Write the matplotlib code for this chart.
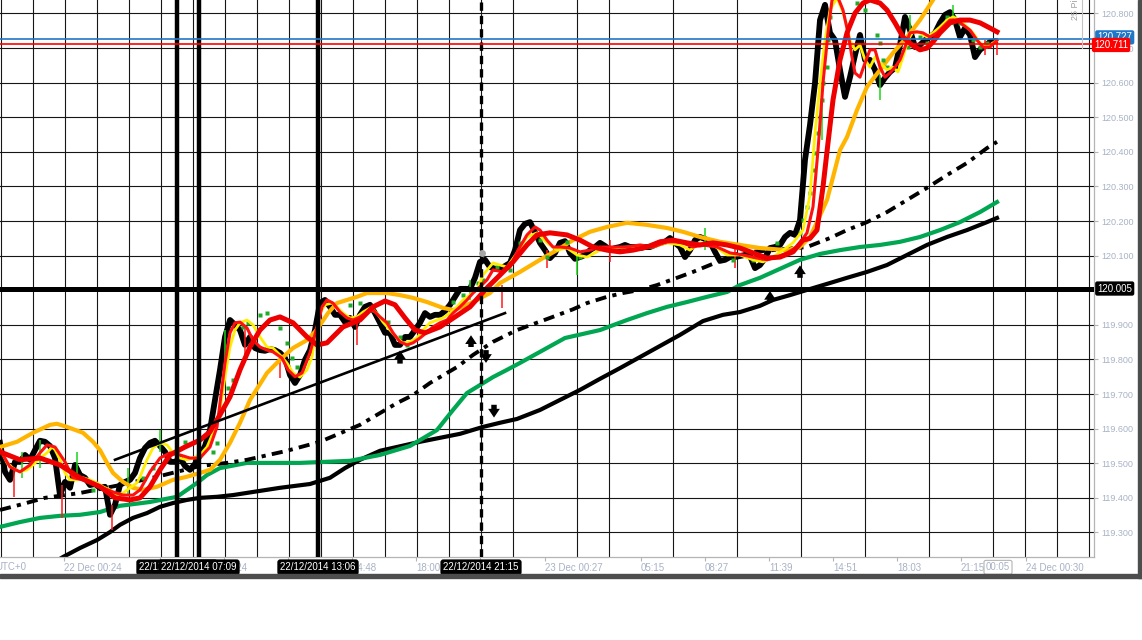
import numpy as np
import matplotlib
matplotlib.use("Agg")
import matplotlib.pyplot as plt
import matplotlib.transforms as mtransforms
from matplotlib.patches import Rectangle
from matplotlib.ticker import FixedLocator

plt.rcParams["font.family"] = ["Liberation Sans", "DejaVu Sans"]
plt.rcParams["lines.scale_dashes"] = False

# ---------------- data: time = minutes from 22 Dec 2014 00:00 (UTC+0) ----------------
PRICE_START = -168
PRICE_STEP = 15
PRICE = [
    119.559, 119.475, 119.452, 119.504, 119.504, 119.524, 119.510, 119.538, 119.565, 119.562,
    119.550, 119.515, 119.408, 119.446, 119.429, 119.495, 119.466, 119.458, 119.437, 119.440,
    119.429, 119.432, 119.351, 119.380, 119.437, 119.446, 119.452, 119.472, 119.515, 119.544,
    119.559, 119.565, 119.550, 119.533, 119.504, 119.504, 119.515, 119.492, 119.481, 119.498,
    119.524, 119.550, 119.596, 119.683, 119.770, 119.865, 119.914, 119.900, 119.885, 119.842,
    119.865, 119.833, 119.827, 119.825, 119.830, 119.827, 119.819, 119.804, 119.755, 119.732,
    119.755, 119.799, 119.827, 119.885, 119.963, 119.972, 119.952, 119.929, 119.929, 119.908,
    119.920, 119.894, 119.929, 119.952, 119.958, 119.934, 119.906, 119.877, 119.877, 119.842,
    119.842, 119.865, 119.865, 119.885, 119.906, 119.934, 119.923, 119.929, 119.929, 119.940,
    119.958, 119.981, 120.004, 120.004, 120.004, 120.036, 120.082, 120.088, 120.067, 120.062,
    120.062, 120.070, 120.079, 120.116, 120.174, 120.192, 120.197, 120.168, 120.137, 120.116,
    120.093, 120.108, 120.137, 120.142, 120.108, 120.091, 120.096, 120.102, 120.116, 120.125,
    120.137, 120.128, 120.116, 120.122, 120.125, 120.131, 120.125, 120.125, 120.122, 120.125,
    120.125, 120.131, 120.137, 120.140, 120.151, 120.137, 120.125, 120.096, 120.116, 120.145,
    120.154, 120.148, 120.140, 120.111, 120.085, 120.088, 120.096, 120.096, 120.099, 120.102,
    120.099, 120.064, 120.073, 120.093, 120.122, 120.125, 120.131, 120.154, 120.166, 120.160,
    120.203, 120.377, 120.478, 120.599, 120.781, 120.825, 120.744, 120.723, 120.637, 120.559,
    120.616, 120.680, 120.738, 120.666, 120.666, 120.637, 120.593, 120.614, 120.631, 120.643,
    120.709, 120.790, 120.752, 120.703, 120.709, 120.723, 120.732, 120.744, 120.773, 120.796,
    120.804, 120.781, 120.732, 120.758, 120.738, 120.674, 120.695, 120.706, 120.718, 120.720,
]

# single-bar wicks poking out of the price cluster
WICK_T = [-126, -102, -48, 18, 63, 168, 216, 312, 507, 567, 672, 903, 1242, 1338,
          1473, 1563, 1662, 1947, 2037, 2298, 2472, 2562, 2691, 2787, 2823]
WICK_LO = [119.403, 119.458, 119.486, 119.342, 119.458, 119.307, 119.408, 119.533, 119.799,
           119.813, 119.747, 119.842, 119.972, 119.949, 120.064, 120.044, 120.082, 120.116,
           120.064, 120.434, 120.550, 120.709, 120.767, 120.680, 120.680]
WICK_HI = [119.481, 119.533, 119.567, 119.437, 119.533, 119.380, 119.486, 119.596, 119.885,
           119.900, 119.813, 119.920, 120.030, 120.015, 120.116, 120.102, 120.145, 120.180,
           120.131, 120.579, 120.622, 120.796, 120.825, 120.723, 120.729]
WICK_C = ["r", "g", "g", "r", "g", "r", "g", "g", "g", "r", "r", "r", "g", "r",
          "r", "g", "r", "g", "r", "g", "g", "g", "g", "r", "r"]

YELLOW_T = [-168, -147, -129, -108, -87, -69, -48, -27, -12, -3,
            12, 27, 42, 63, 81, 102, 123, 141, 162, 183,
            201, 222, 243, 252, 273, 291, 312, 333, 351, 372,
            393, 411, 432, 453, 471, 492, 507, 522, 537, 552,
            573, 591, 612, 633, 651, 672, 693, 711, 732, 753,
            768, 777, 792, 807, 828, 846, 861, 882, 903, 921,
            942, 963, 981, 1002, 1023, 1041, 1062, 1083, 1101, 1122,
            1143, 1161, 1182, 1203, 1221, 1242, 1263, 1281, 1311, 1353,
            1383, 1413, 1443, 1473, 1503, 1533, 1563, 1593, 1632, 1671,
            1713, 1752, 1791, 1833, 1872, 1902, 1932, 1971, 2013, 2052,
            2091, 2121, 2151, 2181, 2211, 2241, 2262, 2277, 2292, 2307,
            2322, 2343, 2361, 2373, 2382, 2397, 2412, 2427, 2442, 2457,
            2472, 2493, 2511, 2526, 2541, 2556, 2571, 2592, 2613, 2631,
            2652, 2673, 2691, 2712, 2733, 2751, 2772, 2793, 2811, 2823]
YELLOW_V = [119.544, 119.501, 119.486, 119.475, 119.481, 119.495, 119.515, 119.530, 119.547, 119.539,
            119.510, 119.472, 119.452, 119.452, 119.458, 119.452, 119.443, 119.432, 119.423, 119.408,
            119.414, 119.429, 119.443, 119.461, 119.510, 119.544, 119.559, 119.553, 119.530, 119.515,
            119.510, 119.515, 119.524, 119.547, 119.588, 119.654, 119.749, 119.836, 119.885, 119.906,
            119.914, 119.900, 119.865, 119.836, 119.833, 119.813, 119.790, 119.761, 119.749, 119.770,
            119.807, 119.865, 119.934, 119.958, 119.963, 119.949, 119.934, 119.920, 119.923, 119.937,
            119.949, 119.934, 119.908, 119.885, 119.862, 119.848, 119.851, 119.862, 119.885, 119.906,
            119.914, 119.920, 119.934, 119.952, 119.972, 119.986, 120.001, 120.044, 120.079, 120.067,
            120.108, 120.154, 120.166, 120.137, 120.116, 120.122, 120.102, 120.096, 120.116, 120.122,
            120.125, 120.125, 120.125, 120.137, 120.131, 120.116, 120.137, 120.131, 120.102, 120.102,
            120.088, 120.082, 120.096, 120.116, 120.137, 120.174, 120.275, 120.455, 120.599, 120.723,
            120.810, 120.845, 120.804, 120.761, 120.723, 120.695, 120.709, 120.666, 120.645, 120.674,
            120.657, 120.637, 120.645, 120.631, 120.674, 120.723, 120.747, 120.744, 120.732, 120.744,
            120.761, 120.781, 120.790, 120.781, 120.761, 120.744, 120.715, 120.703, 120.715, 120.723]

FAST_RED_T = [-168, -138, -108, -78, -48, -27, -3, 27, 51, 81,
              111, 141, 171, 201, 231, 252, 282, 312, 342, 372,
              402, 432, 462, 483, 492, 507, 522, 537, 552, 573,
              591, 612, 633, 651, 678, 696, 717, 738, 762, 783,
              798, 813, 831, 852, 873, 891, 912, 933, 951, 972,
              993, 1011, 1032, 1053, 1071, 1092, 1113, 1131, 1152, 1173,
              1191, 1212, 1233, 1251, 1272, 1293, 1311, 1341, 1362, 1386,
              1413, 1437, 1452, 1473, 1491, 1512, 1542, 1572, 1602, 1632,
              1671, 1713, 1752, 1791, 1833, 1872, 1911, 1941, 1983, 2022,
              2061, 2103, 2133, 2163, 2193, 2223, 2253, 2271, 2286, 2301,
              2316, 2328, 2343, 2361, 2376, 2388, 2397, 2412, 2427, 2442,
              2457, 2472, 2487, 2502, 2517, 2532, 2547, 2562, 2583, 2601,
              2622, 2643, 2661, 2682, 2703, 2721, 2742, 2763, 2781, 2802,
              2823]
FAST_RED_V = [119.539, 119.489, 119.475, 119.495, 119.530, 119.553, 119.547, 119.504, 119.458, 119.452,
              119.443, 119.429, 119.417, 119.408, 119.408, 119.423, 119.475, 119.515, 119.530, 119.524,
              119.515, 119.515, 119.547, 119.605, 119.674, 119.790, 119.877, 119.906, 119.908, 119.891,
              119.856, 119.836, 119.827, 119.822, 119.804, 119.770, 119.750, 119.761, 119.819, 119.894,
              119.952, 119.972, 119.963, 119.937, 119.920, 119.914, 119.923, 119.937, 119.943, 119.923,
              119.906, 119.877, 119.851, 119.842, 119.848, 119.862, 119.879, 119.894, 119.906, 119.914,
              119.934, 119.952, 119.972, 119.992, 120.010, 120.030, 120.059, 120.053, 120.067, 120.116,
              120.160, 120.183, 120.174, 120.145, 120.125, 120.125, 120.122, 120.111, 120.116, 120.125,
              120.125, 120.125, 120.131, 120.125, 120.140, 120.140, 120.125, 120.131, 120.125, 120.108,
              120.102, 120.093, 120.088, 120.096, 120.108, 120.125, 120.166, 120.241, 120.405, 120.599,
              120.744, 120.839, 120.853, 120.810, 120.744, 120.674, 120.628, 120.616, 120.657, 120.695,
              120.695, 120.645, 120.616, 120.628, 120.645, 120.666, 120.703, 120.744, 120.747, 120.744,
              120.732, 120.744, 120.761, 120.781, 120.781, 120.767, 120.752, 120.723, 120.703, 120.703,
              120.723]

SLOW_RED_T = [-168, -108, -48, 12, 72, 132, 177, 222, 252, 282,
              312, 342, 387, 432, 462, 492, 522, 552, 582, 612,
              642, 672, 711, 753, 783, 813, 861, 912, 951, 987,
              1017, 1047, 1077, 1107, 1152, 1197, 1242, 1293, 1332, 1371,
              1413, 1443, 1482, 1533, 1572, 1611, 1653, 1692, 1731, 1773,
              1812, 1851, 1893, 1932, 1971, 2013, 2052, 2091, 2133, 2172,
              2211, 2241, 2262, 2283, 2301, 2316, 2331, 2352, 2373, 2397,
              2421, 2442, 2472, 2493, 2517, 2541, 2568, 2592, 2613, 2631,
              2652, 2682, 2712, 2742, 2772, 2802, 2823]
SLOW_RED_V = [119.533, 119.510, 119.515, 119.495, 119.458, 119.432, 119.400, 119.394, 119.400, 119.432,
              119.481, 119.524, 119.547, 119.567, 119.591, 119.640, 119.692, 119.770, 119.836, 119.885,
              119.914, 119.923, 119.906, 119.865, 119.842, 119.848, 119.894, 119.914, 119.952, 119.969,
              119.958, 119.920, 119.885, 119.877, 119.894, 119.923, 119.952, 120.007, 120.044, 120.082,
              120.131, 120.160, 120.166, 120.160, 120.145, 120.125, 120.116, 120.111, 120.116, 120.125,
              120.140, 120.145, 120.137, 120.131, 120.137, 120.131, 120.122, 120.108, 120.093, 120.096,
              120.111, 120.145, 120.150, 120.174, 120.299, 120.426, 120.550, 120.666, 120.744, 120.801,
              120.830, 120.839, 120.830, 120.810, 120.773, 120.732, 120.709, 120.695, 120.700, 120.718,
              120.744, 120.773, 120.781, 120.781, 120.773, 120.758, 120.747]

ORANGE_T = [-168, -117, -69, -18, 3, 33, 81, 111, 132, 153,
            171, 201, 231, 261, 303, 351, 393, 432, 462, 492,
            522, 552, 582, 633, 672, 711, 753, 777, 798, 816,
            843, 873, 903, 933, 993, 1032, 1071, 1113, 1161, 1191,
            1221, 1263, 1302, 1332, 1392, 1452, 1503, 1551, 1602, 1653,
            1713, 1773, 1833, 1881, 1932, 1992, 2052, 2112, 2193, 2232,
            2262, 2286, 2313, 2331, 2352, 2373, 2403, 2433, 2472, 2511,
            2553, 2592, 2631, 2682, 2823]
ORANGE_V = [119.547, 119.562, 119.588, 119.611, 119.614, 119.605, 119.588, 119.562, 119.538, 119.501,
            119.472, 119.446, 119.429, 119.423, 119.432, 119.452, 119.461, 119.472, 119.481, 119.510,
            119.559, 119.617, 119.683, 119.761, 119.799, 119.833, 119.856, 119.880, 119.908, 119.934,
            119.963, 119.972, 119.981, 119.992, 119.992, 119.986, 119.978, 119.966, 119.949, 119.943,
            119.952, 119.972, 119.992, 120.021, 120.053, 120.088, 120.116, 120.145, 120.169, 120.183,
            120.195, 120.189, 120.180, 120.169, 120.154, 120.140, 120.131, 120.122, 120.116, 120.125,
            120.154, 120.203, 120.261, 120.327, 120.405, 120.443, 120.521, 120.588, 120.637, 120.686,
            120.732, 120.781, 120.839, 120.911, 121.099]

DASHDOT_T = [-168, -108, -33, 72, 192, 312, 432, 513, 573, 693,
             792, 912, 972, 1023, 1071, 1122, 1203, 1251, 1311, 1383,
             1482, 1551, 1593, 1653, 1701, 1752, 1803, 1863, 1911, 1962,
             2052, 2151, 2253, 2322, 2373, 2433, 2493, 2553, 2613, 2673,
             2733, 2793, 2823]
DASHDOT_V = [119.365, 119.380, 119.400, 119.414, 119.437, 119.463, 119.492, 119.501, 119.510, 119.536,
             119.562, 119.611, 119.645, 119.674, 119.697, 119.732, 119.778, 119.813, 119.851, 119.885,
             119.920, 119.945, 119.963, 119.981, 119.992, 120.001, 120.015, 120.036, 120.053, 120.073,
             120.108, 120.116, 120.125, 120.151, 120.174, 120.197, 120.226, 120.261, 120.296, 120.333,
             120.368, 120.411, 120.429]

GREEN_T = [-168, -108, -48, 12, 72, 132, 192, 282, 363, 393,
           423, 453, 492, 573, 732, 882, 972, 1062, 1143, 1191,
           1233, 1272, 1311, 1353, 1392, 1452, 1527, 1632, 1713, 1773,
           1833, 1893, 1953, 2013, 2052, 2112, 2172, 2232, 2292, 2352,
           2412, 2472, 2532, 2592, 2652, 2712, 2772, 2823]
GREEN_V = [119.316, 119.330, 119.342, 119.348, 119.351, 119.359, 119.377, 119.388, 119.403, 119.423,
           119.443, 119.466, 119.486, 119.501, 119.501, 119.507, 119.524, 119.550, 119.596, 119.654,
           119.703, 119.726, 119.749, 119.770, 119.790, 119.822, 119.862, 119.885, 119.914, 119.934,
           119.952, 119.966, 119.981, 119.995, 120.015, 120.036, 120.062, 120.088, 120.105, 120.116,
           120.125, 120.131, 120.140, 120.154, 120.174, 120.197, 120.226, 120.255]

BLACK_T = [-3, 21, 72, 123, 162, 192, 231, 273, 312, 351,
           393, 432, 483, 531, 591, 672, 762, 822, 867, 912,
           972, 1092, 1212, 1281, 1332, 1383, 1452, 1512, 1572, 1632,
           1692, 1752, 1812, 1872, 1941, 2001, 2052, 2112, 2151, 2202,
           2253, 2322, 2373, 2433, 2493, 2553, 2613, 2673, 2733, 2793,
           2823]
BLACK_V = [119.215, 119.229, 119.255, 119.278, 119.301, 119.322, 119.342, 119.356, 119.374, 119.385,
           119.394, 119.400, 119.403, 119.408, 119.417, 119.429, 119.440, 119.458, 119.486, 119.510,
           119.536, 119.562, 119.585, 119.605, 119.617, 119.628, 119.654, 119.683, 119.712, 119.744,
           119.775, 119.807, 119.839, 119.871, 119.911, 119.929, 119.937, 119.955, 119.972, 119.986,
           120.001, 120.021, 120.036, 120.053, 120.073, 120.102, 120.131, 120.154, 120.174, 120.197,
           120.209]

SAR_T = [111, 261, 291, 387, 471, 483, 516, 531, 561, 576,
         612, 633, 672, 693, 708, 723, 882, 912, 951, 996,
         1032, 1053, 1131, 1191, 1221, 1251, 1266, 1281, 1323, 1362,
         1392, 1452, 1473, 1533, 1572, 2031, 2091, 2163, 2211, 2232,
         2241, 2253, 2262, 2271, 2277, 2286, 2292, 2298, 2301, 2313,
         2316, 2322, 2403, 2427, 2463, 2472, 2481, 2493, 2556, 2592,
         2613, 2643, 2673, 2691, 2712, 2751, 2772, 2793]
SAR_V = [119.423, 119.458, 119.486, 119.562, 119.533, 119.559, 119.718, 119.741, 119.894, 119.906,
         119.929, 119.934, 119.891, 119.848, 119.804, 119.778, 119.958, 119.963, 119.943, 119.908,
         119.865, 119.842, 119.891, 119.966, 119.986, 120.001, 120.021, 120.030, 120.067, 120.059,
         120.137, 120.145, 120.096, 120.140, 120.096, 120.088, 120.088, 120.137, 120.116, 120.166,
         120.203, 120.241, 120.281, 120.348, 120.397, 120.455, 120.501, 120.550, 120.599, 120.645,
         120.723, 120.790, 120.830, 120.810, 120.738, 120.715, 120.666, 120.645, 120.703, 120.732,
         120.715, 120.744, 120.790, 120.790, 120.773, 120.723, 120.703, 120.715]

TREND_T = [177, 1347]
TREND_V = [119.510, 119.934]

ARROW_T = [1032, 1245, 1290, 1314, 2142, 2232]
ARROW_FROM = [119.788, 119.836, 119.827, 119.669, 119.966, 120.036]
ARROW_TO = [119.826, 119.870, 119.790, 119.632, 119.998, 120.072]

MARK_T, MARK_V = 1278, 120.108

VLINE_T = [363, 429, 786]
VLINE_LABELS = ["22/12/2014 06:03", "22/12/2014 07:09", "22/12/2014 13:06"]
VDASH_T = 1275
VDASH_LABEL = "22/12/2014 21:15"

LEVEL = 120.005
ASK = 120.727
BID = 120.711
NOW_LABEL = "00:05"
NOW_T = 2826

Y_TICKS = [119.3, 119.4, 119.5, 119.6, 119.7, 119.8, 119.9, 120.0,
           120.1, 120.2, 120.3, 120.4, 120.5, 120.6, 120.7, 120.8]
X_TICK_T = [24, 312, 504, 696, 888, 1080, 1272, 1467, 1755, 1947, 2139, 2331, 2523, 2715, 2910]
X_TICK_LABELS = ["22 Dec 00:24", "05:12", "08:24", "11:36", "14:48", "18:00", "21:12",
                 "23 Dec 00:27", "05:15", "08:27", "11:39", "14:51", "18:03", "21:15",
                 "24 Dec 00:30"]

# ---------------- figure ----------------
W, H = 1142, 640
fig = plt.figure(figsize=(W / 100, H / 100), dpi=100)
fig.patch.set_facecolor("white")
ax = fig.add_axes([0, (H - 557) / H, 1094 / W, 557 / H])
ax.set_xlim(-168, 3114)
ax.set_ylim(119.229, 120.839)
ax.set_facecolor("white")
for s in ["top", "left"]:
    ax.spines[s].set_visible(False)
for s in ["right", "bottom"]:
    ax.spines[s].set_color("#b4b4b4")
    ax.spines[s].set_linewidth(0.9)

LABEL_C = "#a8b2c6"
GRID_C = "#161616"

ax.yaxis.tick_right()
ax.set_yticks(Y_TICKS)
ax.set_yticklabels([f"{v:.3f}" for v in Y_TICKS])
ax.tick_params(axis="y", which="major", length=3, width=0.8, color="#b4b4b4",
               labelcolor=LABEL_C, labelsize=6.5, pad=2)
ax.grid(axis="y", which="major", color=GRID_C, lw=0.8)
ax.set_axisbelow(True)

ax.xaxis.set_minor_locator(FixedLocator(np.arange(-165, 3114, 96)))
ax.grid(axis="x", which="minor", color=GRID_C, lw=0.8)
ax.set_xticks(X_TICK_T)
ax.set_xticklabels(X_TICK_LABELS)
ax.tick_params(axis="x", which="major", length=3, width=0.8, color="#b4b4b4",
               labelcolor=LABEL_C, labelsize=7, pad=1.5)
ax.tick_params(axis="x", which="minor", length=0)
for lab in ax.get_xticklabels():
    lab.set_horizontalalignment("left")

# ---------------- series ----------------
price_t = PRICE_START + PRICE_STEP * np.arange(len(PRICE))

ax.plot(BLACK_T, BLACK_V, color="black", lw=3.0, zorder=2)
ax.plot(GREEN_T, GREEN_V, color="#00a651", lw=3.0, zorder=2.1)
ax.plot(DASHDOT_T, DASHDOT_V, color="black", lw=2.8, zorder=2.2, dashes=(8, 4.5, 3, 4.5))
ax.plot(price_t, PRICE, color="black", lw=4.2, zorder=3, solid_joinstyle="round")
wick_colors = ["#ff1a1a" if c == "r" else "#19d419" for c in WICK_C]
ax.vlines(WICK_T, WICK_LO, WICK_HI, colors=wick_colors, lw=1.1, zorder=3.2)
ax.plot(ORANGE_T, ORANGE_V, color="#ffb400", lw=3.0, zorder=3.4)
ax.plot(SAR_T, SAR_V, ls="none", marker="s", ms=2.8, color="#1faa2a", mec="none", zorder=3.6)
ax.plot(YELLOW_T, YELLOW_V, color="#ffee00", lw=2.0, zorder=4)
ax.plot(FAST_RED_T, FAST_RED_V, color="#ff1010", lw=2.2, zorder=4.2)
ax.plot(SLOW_RED_T, SLOW_RED_V, color="#ee0000", lw=3.6, zorder=4.3)

ax.plot(TREND_T, TREND_V, color="black", lw=1.9, zorder=5)
for t, a, b in zip(ARROW_T, ARROW_FROM, ARROW_TO):
    ax.annotate("", xy=(t, b), xytext=(t, a),
                arrowprops=dict(arrowstyle="simple,head_length=0.45,head_width=0.6,tail_width=0.28",
                                fc="black", ec="black", lw=0, shrinkA=0, shrinkB=0,
                                mutation_scale=14),
                zorder=5)

for t in VLINE_T:
    ax.axvline(t, color="black", lw=3.2, zorder=6)
ax.axvline(VDASH_T, color="black", lw=2.4, dashes=(6, 3.6), zorder=6)
ax.axhline(LEVEL, color="black", lw=3.6, zorder=6)
ax.axhline(ASK, color="#1f77c8", lw=1.2, zorder=7)
ax.axhline(BID, color="#ff0000", lw=1.2, zorder=7)
ax.plot([MARK_T], [MARK_V], "o", color="#a6a6a6", ms=5, mec="none", zorder=7)

# scale marker top-right
ax.plot([1082 / 1094] * 2, [1, 1 - 48 / 557], transform=ax.transAxes, color="#c4c4c4", lw=0.8, zorder=7)
ax.text(1076 / 1094, 1 - 20 / 557, "25 Pips", rotation=90, transform=ax.transAxes,
        ha="center", va="bottom", fontsize=6.5, color="#a0a0a0", zorder=8, clip_on=False)

# ---------------- labels / boxes ----------------
ty = mtransforms.blended_transform_factory(ax.transAxes, ax.transData)
box_kw = dict(transform=ty, ha="left", va="center", fontsize=7, color="white", zorder=20, clip_on=False)
ax.text(1.003, ASK + 0.004, f"{ASK:.3f}", bbox=dict(boxstyle="round,pad=0.22", fc="#1f77c8", ec="none"), **box_kw)
ax.text(1.0, BID - 0.002, f"{BID:.3f}", bbox=dict(boxstyle="round,pad=0.22", fc="#ff0000", ec="none"), **box_kw)
ax.text(1.003, LEVEL, f"{LEVEL:.3f}", bbox=dict(boxstyle="round,pad=0.22", fc="black", ec="none"), **box_kw)

tx = mtransforms.blended_transform_factory(ax.transData, ax.transAxes)
for t, lab in zip(VLINE_T + [VDASH_T], VLINE_LABELS + [VDASH_LABEL]):
    ax.text(t, -0.0185, lab, transform=tx, ha="center", va="center", fontsize=7, color="white",
            bbox=dict(boxstyle="round,pad=0.3", fc="black", ec="none"), zorder=20, clip_on=False)
ax.text(NOW_T, -0.0185, NOW_LABEL, transform=tx, ha="center", va="center", fontsize=7, color=LABEL_C,
        bbox=dict(boxstyle="round,pad=0.2", fc="white", ec="#b4b4b4", lw=0.8), zorder=20, clip_on=False)
ax.text(-0.004, -0.0185, "UTC+0", transform=ax.transAxes, ha="left", va="center", fontsize=7,
        color=LABEL_C, clip_on=False)

# outer dark frame
fig.patches.append(Rectangle((1138 / W, 62 / H), 4 / W, 578 / H, transform=fig.transFigure,
                             color="#4d4d4d", zorder=30))
fig.patches.append(Rectangle((0, 62 / H), 1, 4 / H, transform=fig.transFigure,
                             color="#4d4d4d", zorder=30))

fig.savefig("out.png", dpi=100, facecolor="white")
